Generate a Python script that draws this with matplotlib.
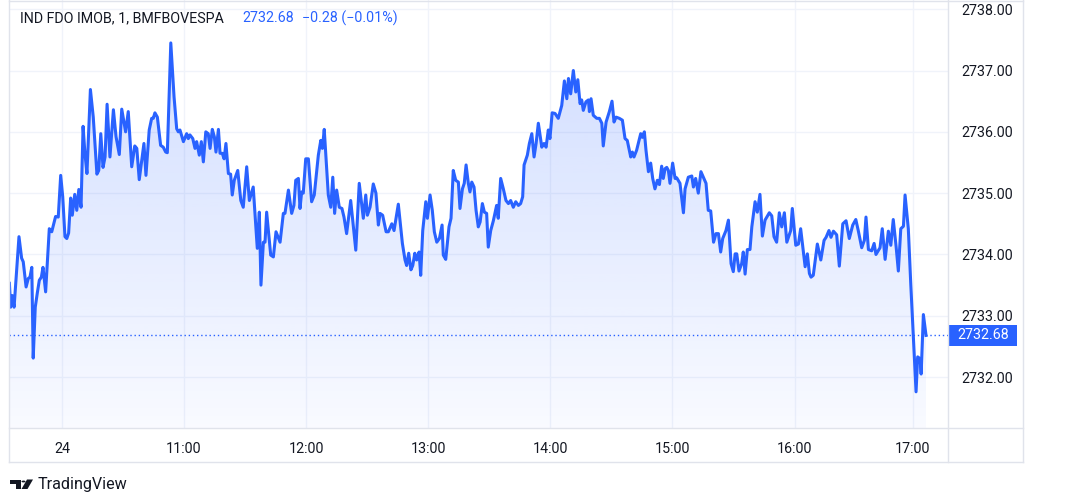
import numpy as np
import matplotlib
matplotlib.use("Agg")
import matplotlib.pyplot as plt
from matplotlib.patches import Polygon, Rectangle, Circle
from matplotlib.lines import Line2D
import matplotlib.transforms as mtransforms

plt.rcParams['font.family'] = ['Roboto', 'DejaVu Sans']

# ---------------- data ----------------
symbol_title = "IND FDO IMOB, 1, BMFBOVESPA"
last_price = 2732.68
change_text = "\u22120.28 (\u22120.01%)"

# minutes since the first bar (first bar ~09:34)
minutes = [
    0.2, 0.8, 1.6, 2.5, 4.9, 6.2, 7.0, 8.4, 9.5, 10.3, 11.2, 11.9, 12.9, 13.9, 14.9, 15.9, 16.7, 18.0, 19.8, 21.0,
    22.9, 24.2, 25.4, 26.4, 27.5, 28.4, 29.3, 30.3, 31.1, 32.3, 33.3, 34.3, 35.4, 36.4, 37.3, 38.3, 40.0, 41.4, 43.2, 44.1,
    45.1, 46.2, 47.2, 48.2, 49.6, 51.3, 52.6, 54.2, 55.4, 57.3, 58.6, 60.3, 61.8, 62.8, 64.0, 66.3, 67.3, 68.9, 70.1, 70.9,
    71.7, 72.9, 74.5, 75.8, 77.0, 77.8, 79.5, 81.1, 82.4, 83.2, 84.0, 85.7, 87.3, 88.1, 88.9, 90.3, 91.4, 92.2, 93.5, 94.5,
    95.5, 96.7, 97.9, 98.8, 99.9, 100.9, 101.7, 102.9, 103.7, 104.8, 105.7, 106.6, 107.8, 108.9, 109.7, 110.7, 112.4, 113.9, 115.1, 116.8,
    118.1, 120.0, 122.0, 123.0, 123.8, 125.0, 125.8, 126.6, 128.6, 129.9, 131.2, 133.2, 134.8, 135.6, 137.3, 138.9, 140.0, 140.9, 142.2, 143.0,
    143.8, 144.6, 145.8, 147.1, 148.7, 150.0, 152.0, 153.2, 154.0, 154.9, 156.9, 158.1, 159.1, 160.0, 161.0, 162.3, 163.6, 164.6, 165.9, 167.9,
    170.4, 172.1, 174.1, 175.3, 176.1, 177.4, 179.0, 180.3, 181.5, 182.3, 183.6, 185.3, 186.4, 188.1, 189.2, 191.3, 193.3, 194.6, 195.4, 196.4,
    197.5, 198.4, 199.4, 200.3, 201.5, 202.3, 203.3, 204.8, 205.6, 206.9, 208.0, 209.0, 210.2, 211.5, 212.8, 213.4, 214.6, 216.2, 217.2, 218.3,
    219.5, 220.8, 221.6, 222.8, 223.7, 224.6, 225.7, 226.5, 227.4, 228.5, 229.5, 230.6, 231.5, 232.6, 233.6, 234.7, 235.5, 236.7, 238.0, 239.6,
    240.4, 241.6, 242.9, 244.2, 245.4, 246.5, 247.8, 249.0, 250.3, 251.4, 252.4, 253.1, 254.7, 255.7, 256.9, 258.0, 259.0, 260.1, 261.8, 262.9,
    263.9, 265.0, 265.8, 266.9, 268.3, 269.9, 271.6, 272.9, 274.1, 274.9, 276.0, 277.3, 278.5, 279.5, 280.6, 281.4, 282.2, 283.5, 284.7, 285.2,
    286.0, 287.1, 288.8, 290.1, 291.3, 292.0, 293.4, 295.0, 296.3, 297.3, 298.3, 299.9, 301.4, 302.7, 303.8, 305.5, 306.3, 307.1, 308.4, 310.4,
    311.2, 312.2, 313.0, 314.2, 315.3, 316.3, 317.4, 318.6, 319.6, 320.7, 321.5, 322.4, 323.2, 324.0, 324.8, 326.1, 327.3, 328.1, 329.7, 331.4,
    332.2, 333.8, 335.5, 336.3, 337.4, 338.7, 340.0, 341.2, 342.5, 343.6, 344.8, 346.2, 347.4, 348.6, 349.7, 350.7, 352.3, 353.5, 354.8, 355.9,
    356.8, 357.6, 358.7, 360.0, 360.8, 361.7, 362.8, 364.1, 365.0, 366.6, 367.7, 369.0, 370.2, 371.5, 373.6, 374.8, 375.9, 377.2, 378.5, 379.7,
    381.0, 382.2, 384.1, 384.9, 386.6, 387.9, 389.0, 391.2, 392.3, 393.3, 394.1, 395.2, 397.2, 398.9, 400.5, 401.5, 402.9, 403.9, 405.1, 406.7,
    408.0, 409.7, 411.3, 412.9, 414.6, 416.1, 417.3, 419.0, 420.3, 421.1, 422.3, 423.9, 425.1, 426.0, 428.0, 429.1, 430.5, 432.1, 433.3, 434.5,
    435.9, 437.0, 438.2, 439.5, 440.3, 441.9, 443.1, 444.4, 445.7, 446.5, 447.7, 448.2, 449.3, 450.6,
]

prices = [
    2733.53, 2733.14, 2733.33, 2733.14, 2734.29, 2733.94, 2733.88, 2733.47, 2733.61, 2733.63, 2733.79, 2732.31, 2733.14, 2733.37, 2733.58, 2733.63, 2733.79, 2733.39, 2734.42, 2734.37,
    2734.62, 2734.61, 2735.29, 2734.94, 2734.29, 2734.26, 2734.35, 2734.92, 2734.64, 2734.98, 2734.72, 2735.06, 2734.77, 2736.09, 2735.65, 2735.32, 2736.69, 2736.24, 2735.31, 2735.37,
    2735.97, 2735.42, 2735.59, 2736.45, 2735.59, 2736.36, 2735.92, 2735.63, 2736.37, 2736.00, 2736.33, 2735.43, 2735.77, 2735.73, 2735.22, 2735.81, 2735.29, 2736.03, 2736.22, 2736.22,
    2736.31, 2736.24, 2735.78, 2735.75, 2735.67, 2735.66, 2737.45, 2736.57, 2736.05, 2736.00, 2736.03, 2735.84, 2735.97, 2735.89, 2735.95, 2735.89, 2735.73, 2735.84, 2735.62, 2735.84,
    2735.51, 2736.00, 2735.97, 2735.73, 2736.04, 2735.92, 2735.67, 2736.04, 2735.65, 2735.65, 2735.56, 2735.81, 2735.32, 2735.31, 2734.97, 2735.21, 2735.37, 2734.88, 2734.77, 2735.43,
    2734.88, 2735.10, 2734.10, 2734.69, 2733.50, 2734.20, 2734.20, 2734.69, 2733.99, 2733.96, 2734.37, 2734.20, 2734.67, 2734.67, 2735.05, 2734.67, 2734.80, 2735.21, 2735.24, 2734.75,
    2735.02, 2735.00, 2735.56, 2735.56, 2734.86, 2734.97, 2735.62, 2735.86, 2735.73, 2736.04, 2734.97, 2734.77, 2735.26, 2734.67, 2735.05, 2734.77, 2734.75, 2734.61, 2734.34, 2734.88,
    2734.07, 2735.16, 2734.59, 2734.97, 2734.64, 2734.77, 2735.15, 2735.00, 2734.48, 2734.67, 2734.64, 2734.37, 2734.37, 2734.50, 2734.39, 2734.82, 2734.18, 2733.91, 2733.82, 2734.02,
    2733.75, 2733.82, 2734.02, 2733.91, 2734.04, 2733.66, 2734.39, 2734.86, 2734.59, 2734.97, 2734.72, 2734.37, 2734.20, 2734.26, 2734.48, 2733.99, 2733.92, 2734.45, 2734.59, 2735.37,
    2735.21, 2735.18, 2734.75, 2735.07, 2735.16, 2735.46, 2735.16, 2735.02, 2735.18, 2735.10, 2734.72, 2734.45, 2734.53, 2734.83, 2734.69, 2734.67, 2734.12, 2734.39, 2734.55, 2734.80,
    2734.59, 2735.24, 2735.07, 2734.88, 2734.83, 2734.88, 2734.77, 2734.86, 2734.80, 2734.83, 2734.94, 2735.46, 2735.62, 2735.81, 2735.97, 2735.59, 2735.81, 2736.14, 2735.75, 2735.81,
    2735.75, 2736.03, 2735.89, 2736.31, 2736.30, 2736.22, 2736.43, 2736.83, 2736.54, 2736.87, 2736.62, 2737.00, 2736.65, 2736.85, 2736.46, 2736.52, 2736.35, 2736.49, 2736.52, 2736.33,
    2736.54, 2736.27, 2736.22, 2736.22, 2736.14, 2735.77, 2736.16, 2736.33, 2736.50, 2736.16, 2736.24, 2736.22, 2736.19, 2735.89, 2735.86, 2735.59, 2735.67, 2735.59, 2735.70, 2735.97,
    2735.91, 2736.00, 2735.70, 2735.35, 2735.49, 2735.24, 2735.07, 2735.21, 2735.14, 2735.44, 2735.24, 2735.40, 2735.42, 2735.37, 2735.16, 2735.49, 2735.24, 2735.25, 2735.16, 2734.68,
    2735.07, 2735.26, 2735.28, 2735.10, 2735.24, 2735.00, 2735.35, 2735.26, 2735.16, 2734.72, 2734.71, 2734.20, 2734.34, 2734.34, 2734.04, 2734.26, 2734.39, 2734.56, 2733.85, 2733.72,
    2734.01, 2734.01, 2733.73, 2733.85, 2734.04, 2733.68, 2734.08, 2734.08, 2734.45, 2734.86, 2734.69, 2734.98, 2734.30, 2734.56, 2734.68, 2734.63, 2734.29, 2734.20, 2734.68, 2734.45,
    2734.68, 2734.20, 2734.39, 2734.75, 2734.15, 2734.17, 2734.42, 2733.80, 2734.01, 2733.69, 2733.63, 2733.66, 2734.17, 2733.91, 2734.23, 2734.28, 2734.39, 2734.28, 2734.38, 2734.32,
    2733.81, 2734.50, 2734.55, 2734.26, 2734.48, 2734.57, 2734.39, 2734.11, 2734.23, 2734.61, 2734.08, 2734.06, 2734.18, 2734.00, 2734.11, 2734.42, 2733.92, 2734.38, 2734.15, 2734.57,
    2734.13, 2733.73, 2734.42, 2734.46, 2734.97, 2734.42, 2733.52, 2732.65, 2731.76, 2732.33, 2732.30, 2732.05, 2733.02, 2732.68,
]

tick_minutes = [26, 86, 146, 206, 266, 326, 386, 444]
tick_labels = ["24", "11:00", "12:00", "13:00", "14:00", "15:00", "16:00", "17:00"]
price_ticks = [2732, 2733, 2734, 2735, 2736, 2737, 2738]

# ---------------- style ----------------
LINE = "#2962FF"
TEXT = "#131722"
GRID = "#F0F3FA"
BORDER = "#E0E3EB"
W, H = 1080, 500
FS = 10.3


def fx(px):
    return px / W


def fy(py):
    return 1 - py / H


fig = plt.figure(figsize=(10.8, 5.0), dpi=100)
fig.patch.set_facecolor("white")

ax = fig.add_axes([fx(9), fy(428), fx(948) - fx(9), fy(0) - fy(428)])
ax.set_facecolor("white")

x_lo, x_hi = 0, 461.4
y_lo, y_hi = 2731.17, 2738.15
ax.set_xlim(x_lo, x_hi)
ax.set_ylim(y_lo, y_hi)

for s in ax.spines.values():
    s.set_visible(False)

# grid
for p in price_ticks:
    ax.axhline(p, color=GRID, lw=1.0, zorder=0)
for t in tick_minutes:
    ax.axvline(t, color=GRID, lw=1.0, zorder=0)

# gradient area fill
verts = list(zip(minutes, prices)) + [(minutes[-1], y_lo), (minutes[0], y_lo)]
poly = Polygon(verts, closed=True, facecolor="none", edgecolor="none")
ax.add_patch(poly)
n = 256
img = np.zeros((n, 1, 4))
img[..., 0] = 41 / 255
img[..., 1] = 98 / 255
img[..., 2] = 1.0
img[..., 3] = np.linspace(0.03, 0.23, n).reshape(-1, 1)
im = ax.imshow(img, extent=[x_lo, x_hi, y_lo, y_hi], origin="lower",
               aspect="auto", zorder=1, interpolation="bilinear")
im.set_clip_path(poly)

# price line
ax.plot(minutes, prices, color=LINE, lw=2.2, zorder=3, solid_joinstyle="round")

# last price dotted line
ax.axhline(last_price, color=LINE, lw=1.0, ls=(0, (1, 2)), zorder=2)

# axes ticks
ax.set_xticks(tick_minutes)
ax.set_xticklabels(tick_labels)
ax.yaxis.tick_right()
ax.set_yticks(price_ticks)
ax.set_yticklabels([f"{p:.2f}" for p in price_ticks])
ax.tick_params(axis="x", length=0, pad=10, labelsize=FS, colors=TEXT)
ax.tick_params(axis="y", length=0, pad=9.5, labelsize=FS, colors=TEXT)
ax.set_ylim(y_lo, y_hi)
ax.set_xlim(x_lo, x_hi)

# last price label box on the price axis
blend = mtransforms.blended_transform_factory(fig.transFigure, ax.transData)
box_h = 0.34
ax.add_patch(Rectangle((fx(948), last_price - box_h / 2), fx(1017) - fx(948), box_h,
                       transform=blend, facecolor=LINE, edgecolor="none",
                       clip_on=False, zorder=5))
ax.text(fx(983), last_price, f"{last_price:.2f}", transform=blend, ha="center",
        va="center", color="white", fontsize=FS, zorder=6, clip_on=False)

# borders
def hline(y, x0, x1):
    fig.add_artist(Line2D([fx(x0), fx(x1)], [fy(y), fy(y)], color=BORDER, lw=1.0))


def vline(x, y0, y1):
    fig.add_artist(Line2D([fx(x), fx(x)], [fy(y0), fy(y1)], color=BORDER, lw=1.0))


hline(0.5, 8.5, 1023)
hline(428, 8.5, 1023)
hline(462, 8.5, 1023)
vline(8.5, 0, 462)
vline(948, 0, 462)
vline(1023, 0, 462)

# title / legend text
fig.text(fx(20), fy(18), symbol_title, color=TEXT, fontsize=FS, va="center", ha="left")
fig.text(fx(242), fy(18), f"{last_price:.2f}", color=LINE, fontsize=FS, va="center", ha="left")
fig.text(fx(302), fy(18), change_text, color=LINE, fontsize=FS, va="center", ha="left")

# TradingView logo (approximate mark + wordmark)
LOGO = "#131722"
fig.add_artist(Rectangle((fx(10), fy(483.5)), fx(21) - fx(10), fy(479.5) - fy(483.5),
                         transform=fig.transFigure, facecolor=LOGO, edgecolor="none"))
fig.add_artist(Rectangle((fx(16), fy(489)), fx(21) - fx(16), fy(479.5) - fy(489),
                         transform=fig.transFigure, facecolor=LOGO, edgecolor="none"))
fig.add_artist(Circle((fx(23.5), fy(481.5)), 2.0 / W, transform=fig.transFigure,
                      facecolor=LOGO, edgecolor="none"))
fig.add_artist(Polygon([(fx(27), fy(479.5)), (fx(33), fy(479.5)), (fx(27.5), fy(489)), (fx(21.5), fy(489))],
                       closed=True, transform=fig.transFigure, facecolor=LOGO, edgecolor="none"))
fig.text(fx(38), fy(484), "TradingView", color=LOGO, fontsize=11.6, va="center", ha="left")

fig.savefig("out.png", dpi=100, facecolor="white")
